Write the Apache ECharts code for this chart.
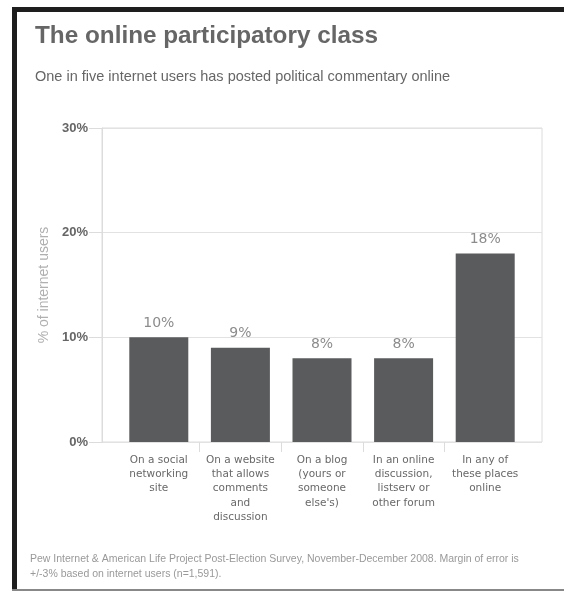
<!DOCTYPE html>
<html>
<head>
<meta charset="utf-8">
<script src="https://cdn.jsdelivr.net/npm/echarts@6/dist/echarts.min.js"></script>
<style>
html,body{margin:0;padding:0;background:#fff;}
#chart{width:564px;height:591px;}
</style>
</head>
<body>
<div id="chart"></div>
<script>
var categories = [
  "On a social\nnetworking\nsite",
  "On a website\nthat allows\ncomments\nand\ndiscussion",
  "On a blog\n(yours or\nsomeone\nelse's)",
  "In an online\ndiscussion,\nlistserv or\nother forum",
  "In any of\nthese places\nonline"
];
var values = [10, 9, 8, 8, 18];
var yTicks = [0, 10, 20, 30];
// separators between neighbouring categories (one fewer than categories)
var separators = categories.slice(1).map(function () { return ''; });

var titleText = "The online participatory class";
var subtitleText = "One in five internet users has posted political commentary online";
var footText = "Pew Internet & American Life Project Post-Election Survey, November-December 2008. Margin of error is\n+/-3% based on internet users (n=1,591).";
var yName = "% of internet users";

var chart = echarts.init(document.getElementById('chart'), null, {renderer: 'canvas'});
var sans = 'Liberation Sans, Arial, sans-serif';
var verd = 'DejaVu Sans, Verdana, sans-serif';

var plotL = 118, plotR = 526;
var band = (plotR - plotL) / categories.length;

chart.setOption({
  animation: false,
  backgroundColor: '#fff',
  title: [
    {text: titleText, left: 30, top: 19, textStyle: {fontFamily: sans, fontSize: 24.3, fontWeight: 'bold', color: '#666'}},
    {text: subtitleText, left: 30, top: 64, textStyle: {fontFamily: sans, fontSize: 14.5, fontWeight: 'normal', color: '#666'}},
    {text: footText, left: 25, top: 547, textStyle: {fontFamily: sans, fontSize: 10.5, fontWeight: 'normal', color: '#999', lineHeight: 15}}
  ],
  graphic: [
    {type: 'rect', shape: {x: 12, y: 7, width: 5, height: 584}, style: {fill: '#1e1e1e'}},
    {type: 'rect', shape: {x: 12, y: 7, width: 552, height: 5}, style: {fill: '#1e1e1e'}},
    {type: 'rect', shape: {x: 12, y: 589, width: 552, height: 2}, style: {fill: '#888'}}
  ],
  grid: [
    {left: 102, right: 22, top: 128, bottom: 149, show: true, borderColor: '#dcdcdc', borderWidth: 1},
    {left: plotL, right: 564 - plotR, top: 128, bottom: 149},
    {left: plotL + band / 2, right: 564 - plotR + band / 2, top: 128, bottom: 149}
  ],
  xAxis: [
    {type: 'value', gridIndex: 0, min: 0, max: 1, show: false},
    {
      type: 'category', gridIndex: 1, data: categories,
      axisLine: {show: false},
      axisTick: {show: false},
      axisLabel: {margin: 11, fontFamily: verd, fontSize: 10.5, color: '#686868', lineHeight: 14.3, interval: 0}
    },
    {
      type: 'category', gridIndex: 2, data: separators,
      axisLine: {show: false},
      axisLabel: {show: false},
      axisTick: {show: true, alignWithLabel: true, interval: 0, length: 10, lineStyle: {color: '#dcdcdc'}}
    }
  ],
  yAxis: [
    {
      type: 'value', gridIndex: 0, min: yTicks[0], max: yTicks[yTicks.length - 1], interval: 10,
      name: yName, nameLocation: 'middle', nameGap: 48,
      nameTextStyle: {fontFamily: sans, fontSize: 14, color: '#b0b0b0'},
      axisLine: {show: true, lineStyle: {color: '#dcdcdc'}},
      axisTick: {show: true, length: 13, lineStyle: {color: '#dcdcdc'}},
      axisLabel: {margin: 14, formatter: '{value}%', fontFamily: sans, fontSize: 13, fontWeight: 'bold', color: '#666'},
      splitLine: {show: true, lineStyle: {color: '#e2e2e2'}}
    },
    {type: 'value', gridIndex: 1, min: yTicks[0], max: yTicks[yTicks.length - 1], show: false},
    {type: 'value', gridIndex: 2, min: yTicks[0], max: yTicks[yTicks.length - 1], show: false}
  ],
  series: [{
    type: 'bar', xAxisIndex: 1, yAxisIndex: 1, data: values, barWidth: 59,
    itemStyle: {color: '#5a5b5d'},
    label: {show: true, position: 'top', distance: 7, formatter: '{c}%', fontFamily: verd, fontSize: 14, color: '#8c8c8c'}
  }]
});
</script>
</body>
</html>
